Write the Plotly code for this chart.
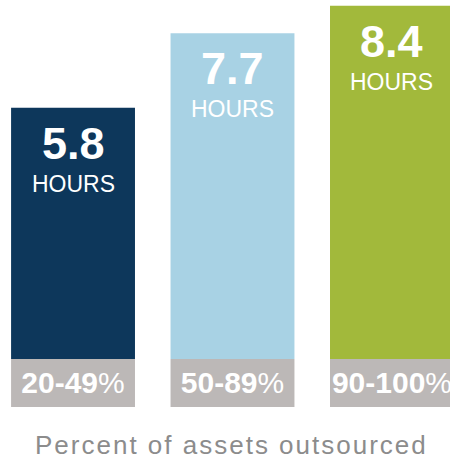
import plotly.graph_objects as go

categories = ["20-49", "50-89", "90-100"]
hours = [5.8, 7.7, 8.4]
unit_label = "HOURS"
axis_title = "Percent of assets outsourced"

bar_colors = ["#0d375b", "#a8d2e4", "#a2b93b"]
label_bg = "#bcb8b7"

Y_MIN = -1.837
LABEL_TOP = -0.612
Y_MAX = 8.546

FONT = "Liberation Sans, Arial, Helvetica, sans-serif"

x = list(range(len(categories)))

fig = go.Figure()
fig.add_trace(go.Bar(
    x=x, y=[v - LABEL_TOP for v in hours], base=LABEL_TOP,
    marker=dict(color=bar_colors, line=dict(width=0)),
    width=0.777, hoverinfo="skip", showlegend=False,
))
fig.add_trace(go.Bar(
    x=x, y=[LABEL_TOP - Y_MIN] * len(x), base=Y_MIN,
    marker=dict(color=label_bg, line=dict(width=0)),
    width=0.777, text=[f"<b>{c}</b>%" for c in categories],
    textposition="inside", insidetextanchor="middle", constraintext="none",
    textfont=dict(family=FONT, size=30, color="white"),
    cliponaxis=False, hoverinfo="skip", showlegend=False,
))

for i, v in enumerate(hours):
    fig.add_annotation(x=i, y=v, xref="x", yref="y", text=f"<b>{v}</b>",
                       showarrow=False, yanchor="top", yshift=-8,
                       font=dict(family=FONT, size=45, color="white"))
    fig.add_annotation(x=i, y=v, xref="x", yref="y", text=unit_label,
                       showarrow=False, yanchor="top", yshift=-61,
                       font=dict(family=FONT, size=23, color="white"))

fig.add_annotation(x=0.515, y=0, xref="paper", yref="paper",
                   text=f'<span style="letter-spacing:2px">{axis_title}</span>',
                   showarrow=False, yanchor="top", yshift=-22, borderpad=0,
                   font=dict(family=FONT, size=26, color="#8c8c8c"))

fig.update_layout(
    width=450, height=458,
    margin=dict(l=0, r=0, t=0, b=51),
    paper_bgcolor="white", plot_bgcolor="white",
    barmode="overlay",
    xaxis=dict(range=[-0.458, 2.364], visible=False),
    yaxis=dict(range=[Y_MIN, Y_MAX], visible=False),
)

fig.write_html("out.html", config={"displayModeBar": False},
               post_script="document.body.style.margin='0';document.body.style.padding='0';")
